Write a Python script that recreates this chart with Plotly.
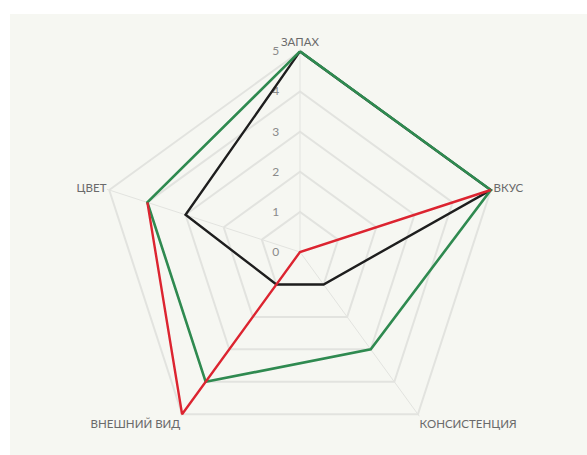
import plotly.graph_objects as go

categories = ["ЗАПАХ", "ВКУС", "КОНСИСТЕНЦИЯ", "ВНЕШНИЙ ВИД", "ЦВЕТ"]
black_vals = [5, 5, 1, 1, 3]
green_vals = [5, 5, 3, 4, 4]
red_vals = [None, 5, 0, 5, 4]
radial_ticks = [0, 1, 2, 3, 4, 5]

fig = go.Figure()

def closed(vals):
    return vals + [vals[0]], categories + [categories[0]]

r, th = closed(black_vals)
fig.add_trace(go.Scatterpolar(r=r, theta=th, mode="lines", cliponaxis=False,
                              line=dict(color="#1e1e1e", width=2.4), name="black"))
r, th = closed(green_vals)
fig.add_trace(go.Scatterpolar(r=r, theta=th, mode="lines", cliponaxis=False,
                              line=dict(color="#2f8a50", width=2.6), name="green"))
fig.add_trace(go.Scatterpolar(r=red_vals, theta=categories, mode="lines", cliponaxis=False,
                              line=dict(color="#dc2430", width=2.4), name="red",
                              connectgaps=False))

grid = "#e2e3df"
R = 203
cx, cy = 300, 455 - 252
fig.update_layout(
    width=587, height=455,
    margin=dict(l=0, r=0, t=0, b=0),
    paper_bgcolor="white",
    showlegend=False,
    font=dict(family="Lato, 'Open Sans', sans-serif", color="#6a6a6a", size=11),
    shapes=[dict(type="rect", xref="paper", yref="paper", x0=10/587, x1=1, y0=0, y1=1-14/455,
                 fillcolor="#f6f7f2", line=dict(width=0), layer="below")],
    polar=dict(
        domain=dict(x=[(cx - R)/587, (cx + R)/587], y=[max(0, (cy - R)/455), (cy + R)/455]),
        bgcolor="rgba(0,0,0,0)",
        gridshape="linear",
        angularaxis=dict(direction="clockwise", rotation=90, layer="below traces",
                         gridcolor=grid, gridwidth=1.2,
                         showline=False, ticks="",
                         tickfont=dict(size=11.5, color="#6a6a6a")),
        radialaxis=dict(range=[0, 5.06], tickvals=radial_ticks,
                        ticktext=[f"{v}\u00a0\u00a0\u00a0\u00a0\u00a0\u00a0" for v in radial_ticks],
                        angle=90, tickangle=90,
                        side="counterclockwise", showline=False, ticks="",
                        layer="below traces",
                        gridcolor=grid, gridwidth=1.5,
                        tickfont=dict(size=12, color="#8a8a8a")),
    ),
)

fig.write_html("out.html")
